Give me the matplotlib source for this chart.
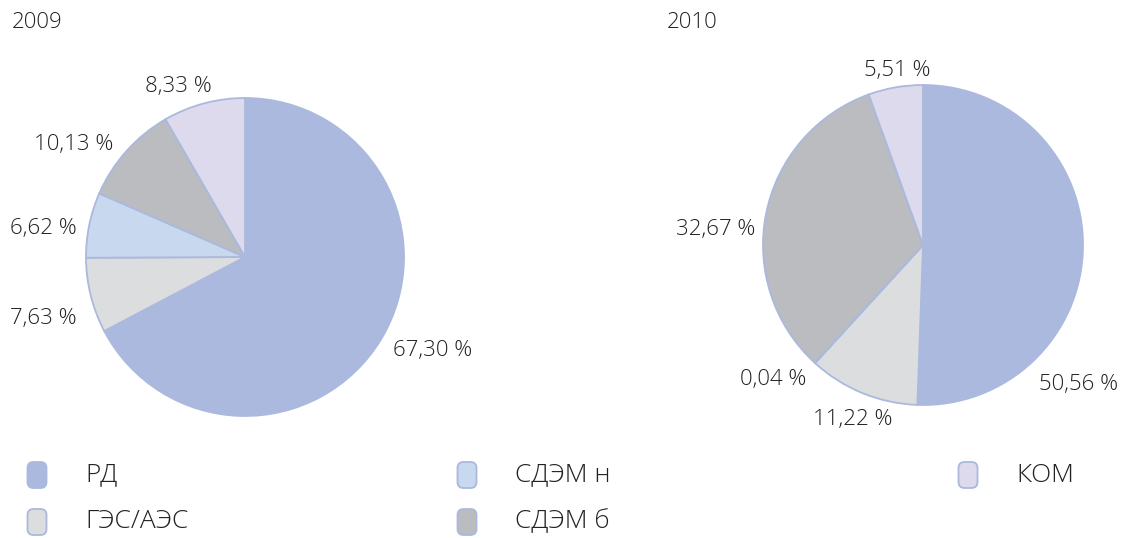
import matplotlib
matplotlib.use("Agg")
import matplotlib.pyplot as plt
from matplotlib.patches import FancyBboxPatch
from matplotlib.transforms import IdentityTransform

plt.rcParams['font.family'] = ['Open Sans', 'DejaVu Sans']

W, H = 1122, 538

categories = ["РД", "ГЭС/АЭС", "СДЭМ н", "СДЭМ б", "КОМ"]
colors = ["#AAB9DD", "#DCDDDF", "#C8D8EE", "#BBBCC0", "#DDDAEE"]
edge = "#AAB9DD"
years = ["2009", "2010"]
values_2009 = [67.30, 7.63, 6.62, 10.13, 8.33]
values_2010 = [50.56, 11.22, 0.04, 32.67, 5.51]
text_color = "#222222"


def fmt(v):
    return f"{v:.2f}".replace(".", ",") + " %"


def pie_axes(cx, cy, r):
    # axes placed in pixel coordinates around the pie centre
    return fig.add_axes([(cx - r) / W, 1 - (cy + r) / H, 2 * r / W, 2 * r / H])


fig = plt.figure(figsize=(W / 100, H / 100), dpi=100)

ax1 = pie_axes(245, 257, 159)
ax2 = pie_axes(923, 245, 160)

texts_all = []
for ax, vals in [(ax1, values_2009), (ax2, values_2010)]:
    wedges, texts = ax.pie(vals, colors=colors, startangle=90, counterclock=False,
                           labels=[fmt(v) for v in vals], labeldistance=1.1,
                           wedgeprops=dict(edgecolor=edge, linewidth=1.3),
                           textprops=dict(fontsize=16, color=text_color,
                                          fontweight="light"))
    ax.set_xlim(-1, 1)
    ax.set_ylim(-1, 1)
    ax.set_aspect("auto")
    ax.axis("off")
    texts_all.append(texts)

# label positions, tuned to the original layout
t09 = texts_all[0]
t09[0].set_position((0.93, -0.59))
t09[1].set_position((-1.057, -0.384))
t09[2].set_position((-1.057, 0.18))
t09[3].set_position((-0.83, 0.71))
t09[4].set_position((-0.21, 1.075))

t10 = texts_all[1]
t10[0].set_position((0.97, -0.87))
t10[0].set_ha("center")
t10[1].set_position((-0.44, -1.09))
t10[1].set_ha("center")
t10[2].set_position((-0.73, -0.84))
t10[3].set_position((-1.05, 0.10))
t10[4].set_ha("center")
t10[4].set_position((-0.16, 1.09))

# year titles
fig.text(12 / W, 1 - 23 / H, years[0], fontsize=16, color=text_color,
         va="center", fontweight="light")
fig.text(667 / W, 1 - 23 / H, years[1], fontsize=16, color=text_color,
         va="center", fontweight="light")

# legend (pixel coordinates, y from bottom)
legend_pos = [(37, 475), (37, 522), (467, 475), (467, 522), (968, 475)]
for (mx, my), cat, col in zip(legend_pos, categories, colors):
    w, h = 19, 26
    box = FancyBboxPatch((mx - w / 2, H - my - h / 2), w, h,
                         boxstyle="round,pad=0,rounding_size=6",
                         transform=IdentityTransform(), facecolor=col,
                         edgecolor=edge, linewidth=1.3)
    fig.add_artist(box)
    fig.text((mx + 48) / W, 1 - my / H, cat, fontsize=19, color=text_color,
             va="center", ha="left", fontweight="light")

fig.savefig("out.png", dpi=100)
